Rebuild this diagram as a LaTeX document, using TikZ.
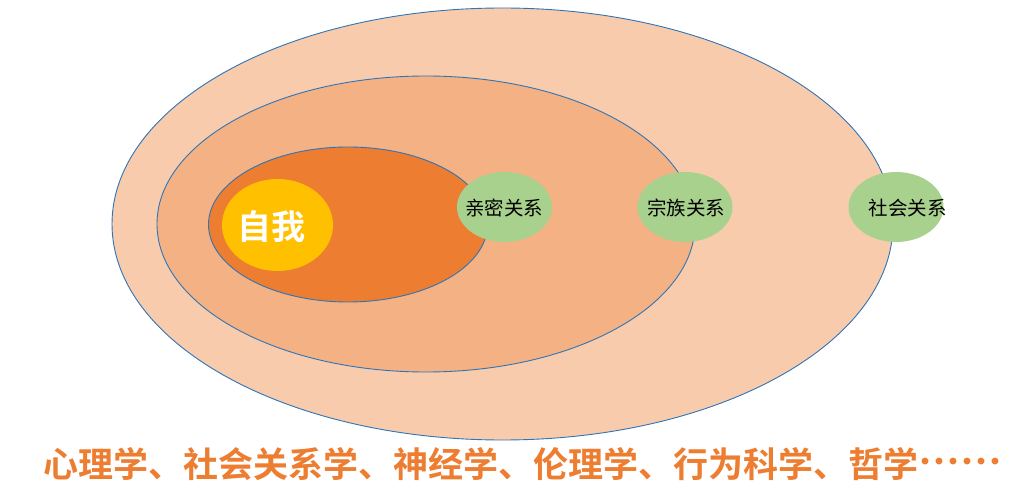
\documentclass[tikz,border=0pt]{standalone}
\usepackage{fontspec}
\newfontfamily\cjk{Noto Sans CJK SC}
\newfontfamily\cjkb[Script=CJK, Language=Chinese Simplified]{Noto Sans CJK SC Bold}
\usetikzlibrary{shapes.geometric}
\definecolor{vongngoai}{HTML}{F8CBAD}
\definecolor{vonggiua}{HTML}{F4B183}
\definecolor{vongtrong}{HTML}{ED7D31}
\definecolor{vangtoi}{HTML}{FFC000}
\definecolor{xanhla}{HTML}{A9D18E}
\definecolor{vien}{HTML}{2E75B6}
\begin{document}
\begin{tikzpicture}[x=1pt, y=-1pt, line join=round, line cap=round,
	vong/.style={draw=vien, line width=0.9pt},
	quanhe/.style={ellipse, fill=xanhla, minimum width=95pt, minimum height=70pt, inner sep=0pt},
	chu/.style={font=\cjk\fontsize{19.5}{19.5}\selectfont, text=black}]
	\useasboundingbox (0,0) rectangle (1024,502);
	% Ba vong elip
	\draw[vong, fill=vongngoai] (502.5,224) ellipse [x radius=390.5, y radius=216];
	\draw[vong, fill=vonggiua] (426,224) ellipse [x radius=269, y radius=148];
	\draw[vong, fill=vongtrong] (348,224.5) ellipse [x radius=139.5, y radius=77.5];
	% Tu ngay
	\node[ellipse, fill=vangtoi, minimum width=111pt, minimum height=92pt, inner sep=0pt] (toi) at (277.5,225) {};
	\node[font=\cjkb\fontsize{34}{34}\selectfont, text=white] (chutoi) at (271.5,227) {自我};
	% Cac quan he
	\node[quanhe] (thanmat) at (504.5,207) {};
	\node[chu] at (504,208) {亲密关系};
	\node[quanhe] (tongtoc) at (685,207) {};
	\node[chu] at (686,208) {宗族关系};
	\node[quanhe] (xahoi) at (896,207) {};
	\node[chu] at (907.5,208) {社会关系};
	% Dong chu duoi
	\node[font=\cjkb\fontsize{35}{35}\selectfont, text=vongtrong] (monhoc) at (522.5,464) {心理学、社会关系学、神经学、伦理学、行为科学、哲学{\fontsize{42}{42}\selectfont ……}};
\end{tikzpicture}
\end{document}
